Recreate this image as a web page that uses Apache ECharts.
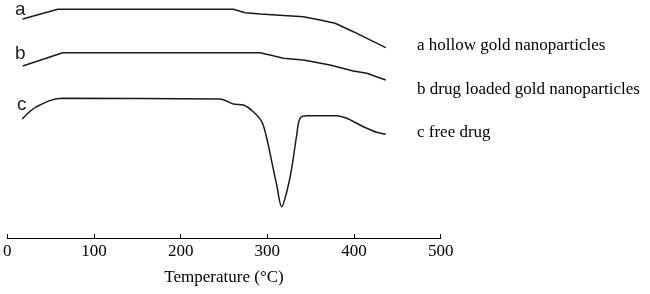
<!DOCTYPE html>
<html>
<head>
<meta charset="utf-8">
<script src="https://cdn.jsdelivr.net/npm/echarts@6/dist/echarts.min.js"></script>
<style>
  html, body { margin: 0; padding: 0; background: #fff; }
  #chart { width: 650px; height: 294px; }
</style>
</head>
<body>
<div id="chart"></div>
<script>
// temperature (°C) and heat flow (arbitrary units, offset per curve)
var tempA = [17.8, 58.2, 260.8, 274.3, 291.6, 341.5, 360.8, 378.1, 399.2, 436.6];
var flowA = [218, 227.7, 227.7, 224.3, 223, 220.3, 217, 213.7, 205.3, 189.3];

var tempB = [17.8, 63.9, 291.6, 303.1, 318.5, 341.5, 372.3, 399.2, 414.7, 436.6];
var flowB = [171, 184.3, 184.3, 182, 178.7, 177, 172, 166, 163.7, 157];

var tempC = [17.3, 33.9, 62.8, 245.4, 260.8, 272.3, 283.8, 293.5, 299.3, 305.1, 310.8, 316.6,
  322.4, 328.1, 333.9, 337.7, 345.5, 380.1, 391.6, 410.8, 426.2, 436.6];
var flowC = [118, 130.3, 138.7, 138, 133, 132, 125.3, 115.3, 98.7, 75.3, 52, 30.3,
  45.3, 68.7, 102, 118.7, 121.3, 121.3, 118.7, 110.3, 104.7, 102.7];

var xTicks = [0, 100, 200, 300, 400, 500];
var curveNames = ["a", "b", "c"];
var legendTexts = ["a hollow gold nanoparticles", "b drug loaded gold nanoparticles", "c free drug"];

function pairs(xs, ys) {
  return xs.map(function(x, i) {
    return [x, ys[i]];
  });
}

var chart = echarts.init(document.getElementById("chart"));

var lineStyle = { color: "#1a1a1a", width: 1.5 };
var letterFont = "19px 'Liberation Sans'";
var legendFont = "17px 'Liberation Serif'";

var option = {
  animation: false,
  grid: {
    left: 7.3,
    right: 209.3,
    top: 0,
    bottom: 56
  },
  xAxis: {
    type: "value",
    min: xTicks[0],
    max: xTicks[xTicks.length - 1],
    interval: 100,
    name: "Temperature (°C)",
    nameLocation: "middle",
    nameGap: 31,
    nameTextStyle: {
      color: "#000",
      fontFamily: "Liberation Serif",
      fontSize: 17
    },
    axisLine: {
      onZero: false,
      lineStyle: { color: "#000", width: 1 }
    },
    axisTick: {
      inside: true,
      length: 4,
      lineStyle: { color: "#000" }
    },
    axisLabel: {
      color: "#000",
      fontFamily: "Liberation Serif",
      fontSize: 17,
      margin: 5
    },
    splitLine: { show: false }
  },
  yAxis: {
    type: "value",
    min: -1,
    max: 237,
    show: false
  },
  graphic: [
    { type: "text", left: 15, top: 0, style: { text: curveNames[0], fill: "#222", font: letterFont } },
    { type: "text", left: 15, top: 44, style: { text: curveNames[1], fill: "#222", font: letterFont } },
    { type: "text", left: 17, top: 95, style: { text: curveNames[2], fill: "#222", font: letterFont } },
    { type: "text", left: 417, top: 37, style: { text: legendTexts[0], fill: "#000", font: legendFont } },
    { type: "text", left: 417, top: 81, style: { text: legendTexts[1], fill: "#000", font: legendFont } },
    { type: "text", left: 417, top: 124, style: { text: legendTexts[2], fill: "#000", font: legendFont } }
  ],
  series: [
    {
      name: curveNames[0],
      type: "line",
      data: pairs(tempA, flowA),
      symbol: "none",
      lineStyle: lineStyle
    },
    {
      name: curveNames[1],
      type: "line",
      data: pairs(tempB, flowB),
      symbol: "none",
      lineStyle: lineStyle
    },
    {
      name: curveNames[2],
      type: "line",
      data: pairs(tempC, flowC),
      symbol: "none",
      smooth: 0.35,
      lineStyle: lineStyle
    }
  ]
};

chart.setOption(option);
</script>
</body>
</html>
